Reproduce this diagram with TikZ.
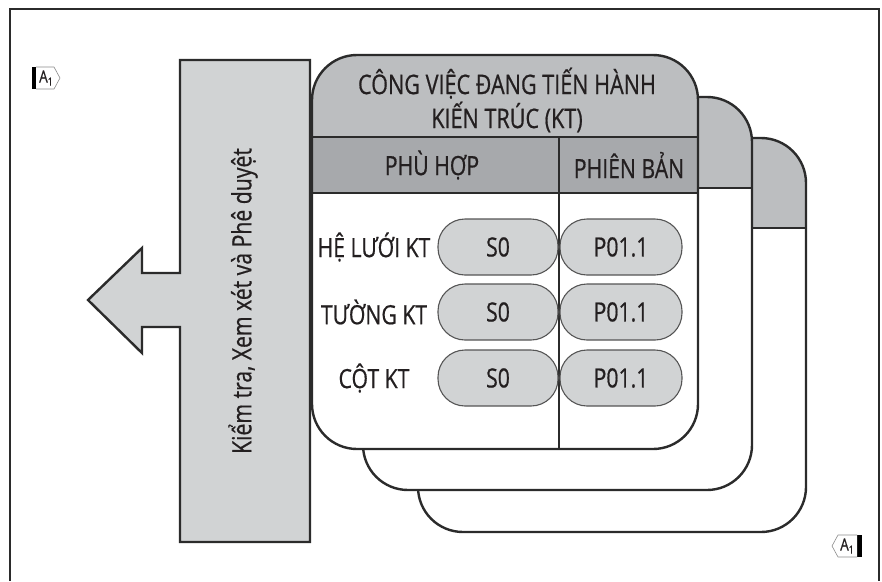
\documentclass[tikz,border=0pt]{standalone}
\usepackage{fontspec}
\setmainfont[FakeStretch=0.8,FakeBold=0.6]{Open Sans}
\definecolor{titlegrey}{HTML}{BCBEC0}
\definecolor{headgrey}{HTML}{A7A9AC}
\definecolor{arrowgrey}{HTML}{D1D3D4}
\definecolor{pillgrey}{HTML}{D1D3D4}
\definecolor{linec}{HTML}{2B2B2B}
\definecolor{txt}{HTML}{231F20}
\tikzset{
  cardline/.style={draw=linec, line width=2.4pt},
  txtstyle/.style={text=txt, font=\fontsize{26.5}{30}\selectfont, inner sep=0pt},
  pill/.style={draw=linec!80, line width=1.1pt, fill=pillgrey, rounded corners=27pt,
    minimum height=56pt, inner sep=0pt, text=txt, font=\fontsize{26.5}{30}\selectfont},
  tag/.style={draw=black!45, line width=0.6pt, fill=white},
}
\begin{document}
\begin{tikzpicture}[x=1pt,y=-1pt]
\useasboundingbox (0,0) rectangle (882,581);
% frame
\draw[linec, line width=2.2pt] (10,581) -- (10,9) -- (879,9) -- (879,581);

% card 3
\fill[white, rounded corners=45pt] (418,138) rectangle (806,532);
\begin{scope}
  \clip[rounded corners=45pt] (418,138) rectangle (806,532);
  \fill[titlegrey] (410,130) rectangle (815,228);
\end{scope}
\draw[cardline, rounded corners=45pt] (418,138) rectangle (806,532);
\draw[cardline] (418,228) -- (806,228);

% card 2
\fill[white, rounded corners=45pt] (363,97) rectangle (752,490);
\begin{scope}
  \clip[rounded corners=45pt] (363,97) rectangle (752,490);
  \fill[titlegrey] (355,90) rectangle (760,188);
\end{scope}
\draw[cardline, rounded corners=45pt] (363,97) rectangle (752,490);
\draw[cardline] (363,188) -- (752,188);

% card 1
\fill[white, rounded corners=45pt] (312,55) rectangle (698,449);
\begin{scope}
  \clip[rounded corners=45pt] (312,55) rectangle (698,449);
  \fill[titlegrey] (300,45) rectangle (710,137);
  \fill[headgrey] (300,137) rectangle (710,193);
\end{scope}
\draw[cardline] (312,137) -- (698,137);
\draw[cardline] (312,193) -- (698,193);
\draw[cardline] (559,137) -- (559,449);
\draw[cardline, rounded corners=45pt] (312,55) rectangle (698,449);

% arrow
\draw[cardline, fill=arrowgrey] (310,60) -- (180,60) -- (180,273) -- (142,273) -- (142,248)
  -- (88,300) -- (142,353) -- (142,327) -- (180,327) -- (180,542) -- (310,542) -- cycle;
\node[txtstyle, rotate=90] (arrowtext) at (243,301) {Kiểm tra, Xem xét và Phê duyệt};

% texts
\node[txtstyle, align=center, font=\fontsize{27}{34}\selectfont] (title) at (507,100)
  {CÔNG VIỆC ĐANG TIẾN HÀNH\\KIẾN TRÚC (KT)};
\node[txtstyle] (h1) at (432,165) {PHÙ HỢP};
\node[txtstyle] (h2) at (629,165) {PHIÊN BẢN};

\node[txtstyle] (l1) at (374,247) {HỆ LƯỚI KT};
\node[txtstyle] (l2) at (374,312) {TƯỜNG KT};
\node[txtstyle] (l3) at (374,378) {CỘT KT};

\node[pill, minimum width=120pt] (s1) at (498,247) {S0};
\node[pill, minimum width=120pt] (s2) at (498,312) {S0};
\node[pill, minimum width=120pt] (s3) at (498,378) {S0};
\node[pill, minimum width=122pt] (p1) at (621,247) {P01.1};
\node[pill, minimum width=122pt] (p2) at (621,312) {P01.1};
\node[pill, minimum width=122pt] (p3) at (621,378) {P01.1};

% corner tags
\fill[black] (32,67) rectangle (36,89);
\draw[tag] (36,67) -- (54,67) -- (60,78) -- (54,89) -- (36,89);
\node[txtstyle, font=\fontsize{17}{18}\selectfont] (tagA) at (46,78) {A\raisebox{-3pt}{\fontsize{11}{11}\selectfont 1}};

\fill[black] (857,535) rectangle (862,557);
\draw[tag] (857,535) -- (838,535) -- (832,546) -- (838,557) -- (857,557);
\node[txtstyle, font=\fontsize{17}{18}\selectfont] (tagB) at (847,546) {A\raisebox{-3pt}{\fontsize{11}{11}\selectfont 1}};
\end{tikzpicture}
\end{document}
